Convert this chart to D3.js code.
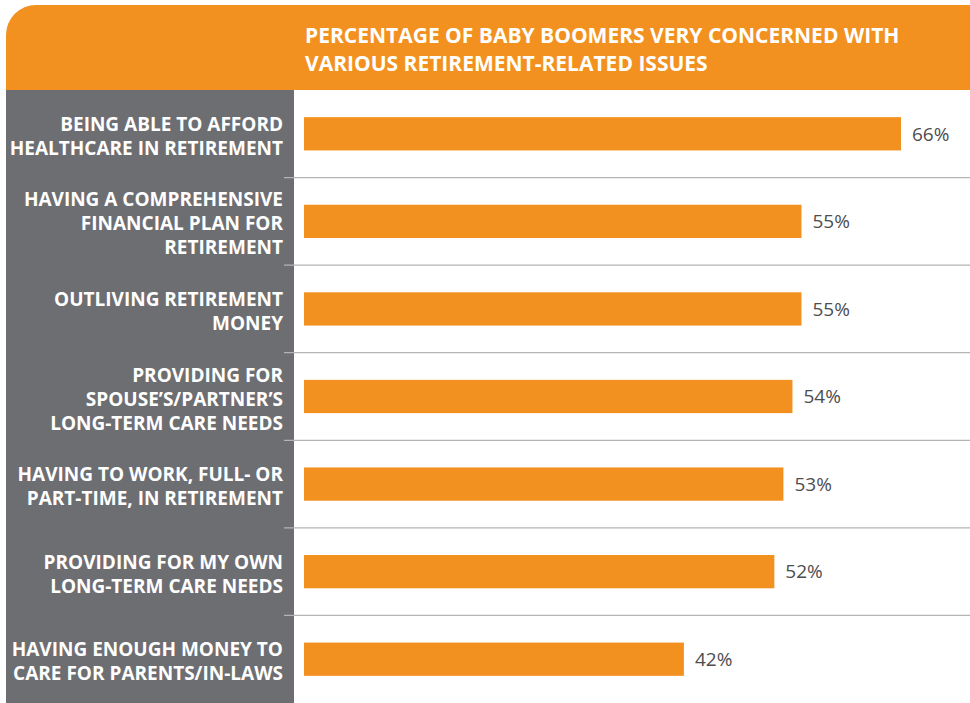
<!DOCTYPE html>
<html>
<head>
<meta charset="utf-8">
<script src="https://cdn.jsdelivr.net/npm/d3@7"></script>
<style>
  html, body { margin: 0; padding: 0; background: #fff; }
  svg { display: block; }
</style>
</head>
<body>
<svg id="chart" width="970" height="703"></svg>
<script>
// Survey items, one per row (label lines split where the text wraps)
const categories = [
  ["BEING ABLE TO AFFORD", "HEALTHCARE IN RETIREMENT"],
  ["HAVING A COMPREHENSIVE", "FINANCIAL PLAN FOR", "RETIREMENT"],
  ["OUTLIVING RETIREMENT", "MONEY"],
  ["PROVIDING FOR", "SPOUSE\u2019S/PARTNER\u2019S", "LONG-TERM CARE NEEDS"],
  ["HAVING TO WORK, FULL- OR", "PART-TIME, IN RETIREMENT"],
  ["PROVIDING FOR MY OWN", "LONG-TERM CARE NEEDS"],
  ["HAVING ENOUGH MONEY TO", "CARE FOR PARENTS/IN-LAWS"]
];
// Share of baby boomers "very concerned" (%)
const values = [66, 55, 55, 54, 53, 52, 42];
const titleLines = [
  "PERCENTAGE OF BABY BOOMERS VERY CONCERNED WITH",
  "VARIOUS RETIREMENT-RELATED ISSUES"
];

const W = 970, H = 703;
const ORANGE = "#f39120", GREY = "#6d6e72";
const svg = d3.select("#chart");

const panelLeft = 6, panelTop = 5, headerBottom = 90, sideRight = 294, r = 30;

// Header band with a rounded top-left corner
svg.append("path")
  .attr("d", `M${panelLeft},${headerBottom} V${panelTop + r} A${r},${r} 0 0 1 ${panelLeft + r},${panelTop} H${W} V${headerBottom} Z`)
  .attr("fill", ORANGE);

// Grey label column
svg.append("rect")
  .attr("x", panelLeft).attr("y", headerBottom)
  .attr("width", sideRight - panelLeft).attr("height", H - headerBottom)
  .attr("fill", GREY);

// Title
svg.append("text")
  .attr("font-family", "'Open Sans', sans-serif")
  .attr("font-weight", 700)
  .attr("font-size", 21)
  .attr("fill", "#fff")
  .selectAll("tspan").data(titleLines).join("tspan")
  .attr("x", 305)
  .attr("y", (d, i) => 42.5 + i * 28.5)
  .text(d => d);

const ids = d3.range(categories.length);
const y = d3.scaleBand().domain(ids).range([headerBottom, H])
  .paddingInner(0.62).paddingOuter(0.31);
const x = d3.scaleLinear().domain([0, d3.max(values)]).range([304, 901]);

// Row separators
const step = y.step();
svg.append("g").selectAll("line").data(ids.slice(1)).join("line")
  .attr("x1", 284).attr("x2", W)
  .attr("y1", i => headerBottom + i * step)
  .attr("y2", i => headerBottom + i * step)
  .attr("stroke", "#b4b4b4").attr("stroke-width", 1.3);

// Bars
svg.append("g").selectAll("rect").data(ids).join("rect")
  .attr("x", x(0))
  .attr("y", i => y(i))
  .attr("width", i => x(values[i]) - x(0))
  .attr("height", y.bandwidth())
  .attr("fill", ORANGE);

// Value labels
svg.append("g").selectAll("text").data(ids).join("text")
  .attr("x", i => x(values[i]) + 11)
  .attr("y", i => y(i) + y.bandwidth() / 2)
  .attr("dy", "0.36em")
  .attr("font-family", "'Open Sans', sans-serif")
  .attr("font-size", 19)
  .attr("fill", "#4d4d4f")
  .text(i => values[i] + "%");

// Category labels, right-aligned in the grey column
const lineH = 24;
svg.append("g").selectAll("text").data(ids).join("text")
  .attr("text-anchor", "end")
  .attr("font-family", "'Open Sans', sans-serif")
  .attr("font-weight", 700)
  .attr("font-size", 19)
  .attr("fill", "#fff")
  .each(function(i) {
    const lines = categories[i];
    const c = y(i) + y.bandwidth() / 2 + 1.5;
    d3.select(this).selectAll("tspan").data(lines).join("tspan")
      .attr("x", 283)
      .attr("y", (d, k) => c - (lines.length - 1) * lineH / 2 + k * lineH + 7.5)
      .text(d => d);
  });
</script>
</body>
</html>
